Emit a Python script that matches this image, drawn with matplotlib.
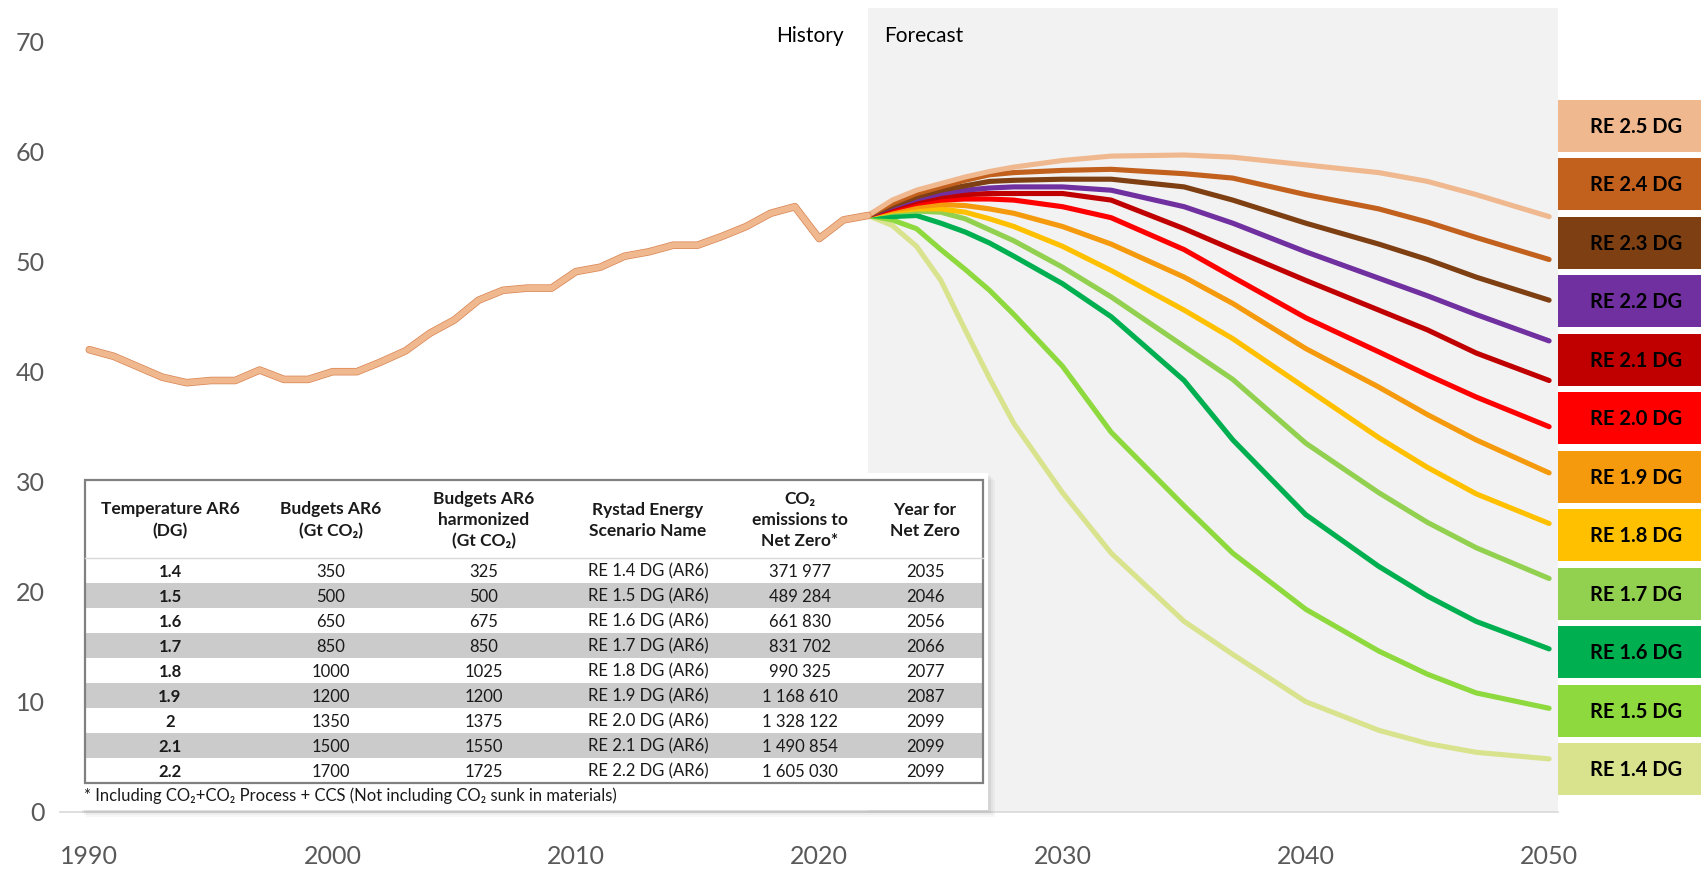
import matplotlib.pyplot as plt
import matplotlib.patches as patches
import matplotlib.patheffects as pe

plt.rcParams['font.family'] = ['Lato', 'DejaVu Sans']

# история выбросов
hist_years = list(range(1990, 2023))
hist_values = [42.0, 41.4, 40.45, 39.5, 39.0, 39.2, 39.2, 40.15, 39.3, 39.3,
               40.0, 40.0, 40.9, 41.9, 43.5, 44.7, 46.5, 47.4, 47.6, 47.6,
               49.1, 49.5, 50.5, 50.9, 51.5, 51.5, 52.3, 53.2, 54.4, 55.0,
               52.1, 53.8, 54.2]

# прогноз по сценариям
forecast_years = [2022, 2023, 2024, 2025, 2026, 2027, 2028, 2030, 2032, 2035, 2037, 2040, 2043, 2045, 2047, 2050]
re25 = [54.2, 55.6, 56.5, 57.1, 57.7, 58.2, 58.6, 59.2, 59.6, 59.7, 59.5, 58.8, 58.1, 57.3, 56.1, 54.1]
re24 = [54.2, 55.3, 56.2, 56.8, 57.4, 57.9, 58.1, 58.3, 58.4, 58.0, 57.6, 56.1, 54.8, 53.6, 52.2, 50.2]
re23 = [54.2, 55.1, 55.9, 56.5, 56.9, 57.3, 57.4, 57.5, 57.5, 56.8, 55.6, 53.5, 51.6, 50.2, 48.6, 46.5]
re22 = [54.2, 55.0, 55.7, 56.2, 56.5, 56.7, 56.8, 56.8, 56.5, 55.0, 53.5, 50.9, 48.5, 46.9, 45.2, 42.8]
re21 = [54.2, 54.9, 55.5, 55.9, 56.1, 56.2, 56.2, 56.2, 55.6, 53.0, 51.1, 48.3, 45.6, 43.8, 41.7, 39.2]
re20 = [54.2, 54.8, 55.3, 55.6, 55.7, 55.7, 55.6, 55.0, 54.0, 51.1, 48.6, 44.9, 41.8, 39.7, 37.7, 35.0]
re19 = [54.2, 54.7, 55.0, 55.2, 55.1, 54.8, 54.4, 53.2, 51.6, 48.6, 46.2, 42.1, 38.6, 36.1, 33.8, 30.8]
re18 = [54.2, 54.6, 54.8, 54.8, 54.5, 53.9, 53.2, 51.4, 49.2, 45.6, 43.0, 38.5, 34.0, 31.3, 28.9, 26.2]
re17 = [54.2, 54.5, 54.6, 54.5, 53.9, 52.9, 51.9, 49.5, 46.8, 42.3, 39.3, 33.5, 29.0, 26.3, 24.0, 21.2]
re16 = [54.2, 54.1, 54.2, 53.5, 52.7, 51.7, 50.5, 48.0, 45.0, 39.2, 33.8, 27.0, 22.3, 19.6, 17.3, 14.8]
re15 = [54.2, 53.8, 53.0, 51.1, 49.3, 47.4, 45.2, 40.5, 34.5, 27.8, 23.5, 18.4, 14.6, 12.5, 10.8, 9.4]
re14 = [54.2, 53.3, 51.4, 48.3, 43.8, 39.4, 35.3, 29.0, 23.5, 17.3, 14.3, 10.0, 7.4, 6.2, 5.4, 4.8]

scenario_labels = ['RE 2.5 DG', 'RE 2.4 DG', 'RE 2.3 DG', 'RE 2.2 DG', 'RE 2.1 DG', 'RE 2.0 DG',
                   'RE 1.9 DG', 'RE 1.8 DG', 'RE 1.7 DG', 'RE 1.6 DG', 'RE 1.5 DG', 'RE 1.4 DG']
scenario_values = [re25, re24, re23, re22, re21, re20, re19, re18, re17, re16, re15, re14]
scenario_colors = ['#F0B88F', '#C2601D', '#7E3F13', '#7030A0', '#C00000', '#FF0000',
                   '#F59A0C', '#FFC000', '#92D050', '#00B050', '#8ED93E', '#D9E38E']

# таблица
table_header = ['Temperature AR6\n(DG)', 'Budgets AR6\n(Gt CO\u2082)', 'Budgets AR6\nharmonized\n(Gt CO\u2082)',
                'Rystad Energy\nScenario Name', 'CO\u2082\nemissions to\nNet Zero*', 'Year for\nNet Zero']
temps = ['1.4', '1.5', '1.6', '1.7', '1.8', '1.9', '2', '2.1', '2.2']
budgets = ['350', '500', '650', '850', '1000', '1200', '1350', '1500', '1700']
budgets_harm = ['325', '500', '675', '850', '1025', '1200', '1375', '1550', '1725']
scenario_names = ['RE 1.4 DG (AR6)', 'RE 1.5 DG (AR6)', 'RE 1.6 DG (AR6)', 'RE 1.7 DG (AR6)',
                  'RE 1.8 DG (AR6)', 'RE 1.9 DG (AR6)', 'RE 2.0 DG (AR6)', 'RE 2.1 DG (AR6)',
                  'RE 2.2 DG (AR6)']
co2_to_nz = ['371 977', '489 284', '661 830', '831 702', '990 325', '1 168 610',
             '1 328 122', '1 490 854', '1 605 030']
nz_year = ['2035', '2046', '2056', '2066', '2077', '2087', '2099', '2099', '2099']
footnote = '* Including CO\u2082+CO\u2082 Process + CCS (Not including CO\u2082 sunk in materials)'

W, H = 1701, 872
fig = plt.figure(figsize=(W / 100, H / 100), dpi=100)

# основная ось, в пикселях: 1990 -> 89, 2050 -> 1549, 0 -> 811.7, 10 ед. = 110 px
ppy = 24.33
ax_left, ax_right, ax_bottom, ax_top = 60, 1558, 811.7, 8
ax = fig.add_axes([ax_left / W, (H - ax_bottom) / H, (ax_right - ax_left) / W, (ax_bottom - ax_top) / H])
x0 = 1990 - (89.3 - ax_left) / ppy
x1 = 2050 + (ax_right - 1549.1) / ppy
ax.set_xlim(x0, x1)
ax.set_ylim(0, (ax_bottom - ax_top) / 11)

ax.axvspan(2022, x1, color='#F2F2F2', lw=0, zorder=0)

for vals, col in reversed(list(zip(scenario_values, scenario_colors))):
    ax.plot(forecast_years, vals, color=col, lw=3.7, solid_capstyle='round',
            solid_joinstyle='round', zorder=4)

ax.plot(hist_years, hist_values, color='#F0B88F', lw=4.4, solid_capstyle='round',
        solid_joinstyle='round', zorder=5,
        path_effects=[pe.Stroke(linewidth=5.4, foreground='#D98350'), pe.Normal()])

ax.set_xticks(range(1990, 2051, 10))
ax.set_yticks(range(0, 71, 10))
ax.tick_params(axis='both', length=0, labelsize=18, labelcolor='#595959')
ax.tick_params(axis='x', pad=24)
ax.tick_params(axis='y', pad=11)
for s in ['top', 'right', 'left']:
    ax.spines[s].set_visible(False)
ax.spines['bottom'].set_color('#D9D9D9')
ax.spines['bottom'].set_linewidth(1.2)
ax.set_facecolor('none')

# оверлей в пикселях
ov = fig.add_axes([0, 0, 1, 1], zorder=10)
ov.set_xlim(0, W)
ov.set_ylim(H, 0)
ov.axis('off')
ov.patch.set_alpha(0)

ov.text(844, 36, 'History', ha='right', va='center', fontsize=15, color='black')
ov.text(884, 36, 'Forecast', ha='left', va='center', fontsize=15, color='black')

# плашки сценариев
box_h = 52
for i, (lab, col) in enumerate(zip(scenario_labels, scenario_colors)):
    y_top = 100 + i * 58.45
    ov.add_patch(patches.Rectangle((1558, y_top), W - 1558, box_h, facecolor=col, edgecolor='none'))
    ov.text(1636, y_top + box_h / 2 + 1, lab, ha='center', va='center', fontsize=14.5,
            fontweight='bold', color='black')

# белая подложка таблицы с тенью
bx0, bx1, by0, by1 = 79, 988, 473, 810
for k, a in [(7, 0.06), (5, 0.08), (3, 0.12)]:
    ov.add_patch(patches.Rectangle((bx0 + k, by0 + k), bx1 - bx0, by1 - by0,
                                   facecolor='#7F7F7F', alpha=a, edgecolor='none'))
ov.add_patch(patches.Rectangle((bx0, by0), bx1 - bx0, by1 - by0, facecolor='white', edgecolor='none'))

tx0, tx1, ty0 = 85, 983, 480
head_bottom = 558.3
row_h = 25
n_rows = len(temps)
ty1 = head_bottom + n_rows * row_h

for r in range(n_rows):
    if r % 2 == 1:
        ov.add_patch(patches.Rectangle((tx0, head_bottom + r * row_h), tx1 - tx0, row_h,
                                       facecolor='#CBCBCB', edgecolor='none'))
ov.plot([tx0, tx1], [head_bottom, head_bottom], color='#D9D9D9', lw=1)
ov.add_patch(patches.Rectangle((tx0, ty0), tx1 - tx0, ty1 - ty0, facecolor='none',
                               edgecolor='#808080', lw=1.6))

col_x = [170, 331, 484, 648, 800, 925]
head_mid = (ty0 + head_bottom) / 2 + 1
for cx, txt in zip(col_x, table_header):
    ov.text(cx, head_mid, txt, ha='center', va='center', fontsize=12.5, fontweight='bold',
            linespacing=1.4, color='#1A1A1A')

columns = [temps, budgets, budgets_harm, scenario_names, co2_to_nz, nz_year]
for c, (cx, vals) in enumerate(zip(col_x, columns)):
    for r, v in enumerate(vals):
        ov.text(cx, head_bottom + r * row_h + row_h / 2 + 1, v, ha='center', va='center',
                fontsize=12, fontweight='bold' if c == 0 else 'normal', color='#1A1A1A')

ov.text(84, 796, footnote, ha='left', va='center', fontsize=12, color='#1A1A1A')

fig.savefig('out.png', dpi=100)
